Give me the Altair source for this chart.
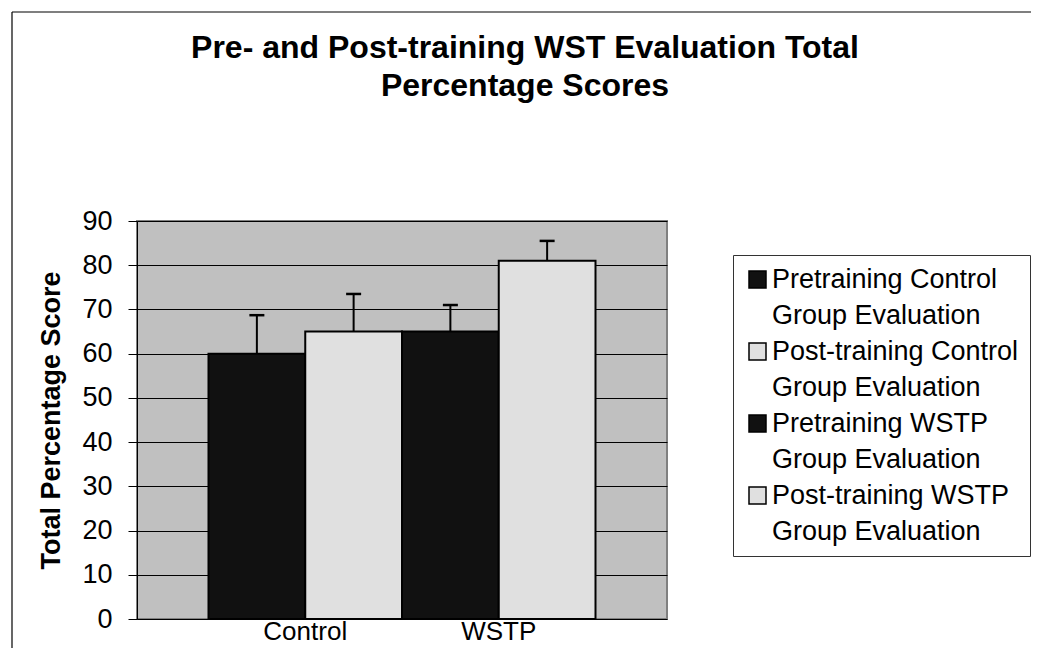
import altair as alt
import pandas as pd

series = [
    "Pretraining Control Group Evaluation",
    "Post-training Control Group Evaluation",
    "Pretraining WSTP Group Evaluation",
    "Post-training WSTP Group Evaluation",
]
means = [60, 65, 65, 81]
errors = [8.7, 8.5, 6.0, 4.5]
colors = ["#111111", "#e0e0e0", "#111111", "#e0e0e0"]
groups = ["Control", "WSTP"]
group_anchor = [series[0], series[2]]
y_ticks = [0, 10, 20, 30, 40, 50, 60, 70, 80, 90]
title_lines = ["Pre- and Post-training WST Evaluation Total", "Percentage Scores"]

FONT = "Arial, Liberation Sans"

df = pd.DataFrame({"series": series, "mean": means, "err": errors})
df["upper"] = df["mean"] + df["err"]
gdf = pd.DataFrame({"group": groups, "series": group_anchor})
tdf = pd.DataFrame({"n_lines": [len(title_lines)]})

W, H = 530, 398

xscale = alt.Scale(domain=series, paddingInner=0, paddingOuter=0.739)
yscale = alt.Scale(domain=[0, 90], nice=False)

x = alt.X("series:N", scale=xscale, axis=None, sort=series)

bars = alt.Chart(df).mark_bar(stroke="black", strokeWidth=2).encode(
    x=x,
    y=alt.Y(
        "mean:Q",
        scale=yscale,
        axis=alt.Axis(
            values=y_ticks,
            title="Total Percentage Score",
            titleFont=FONT,
            titleFontSize=27,
            titleFontWeight="bold",
            titleColor="black",
            titlePadding=16,
            labelFont=FONT,
            labelFontSize=27,
            labelColor="black",
            labelPadding=16,
            tickSize=9,
            tickColor="black",
            domainColor="black",
            domainWidth=1,
            grid=True,
            gridColor="black",
            gridWidth=1,
            gridOpacity=1,
        ),
    ),
    color=alt.Color(
        "series:N",
        scale=alt.Scale(domain=series, range=colors),
        legend=alt.Legend(
            title=None,
            orient="none",
            legendX=596,
            legendY=34,
            padding=11,
            strokeColor="#333333",
            fillColor="white",
            labelFont=FONT,
            labelFontSize=27,
            labelColor="black",
            labelLimit=500,
            labelOffset=1,
            rowPadding=8,
            symbolType="square",
            symbolSize=289,
            symbolStrokeColor="black",
            symbolStrokeWidth=1.5,
            symbolOpacity=1,
            labelExpr="[replace(datum.label, ' Group Evaluation', ''), 'Group Evaluation']",
        ),
    ),
)

rules = alt.Chart(df).mark_rule(color="black", strokeWidth=2).encode(
    x=x, y=alt.Y("mean:Q", scale=yscale), y2="upper:Q"
)
caps = alt.Chart(df).mark_tick(color="black", size=15, thickness=2.5, opacity=1).encode(
    x=x, y=alt.Y("upper:Q", scale=yscale)
)

xlabels = alt.Chart(gdf).mark_text(
    font=FONT, fontSize=26, color="black", baseline="middle", align="center"
).encode(
    x=alt.X("series:N", scale=xscale, axis=None, bandPosition=1),
    y=alt.value(H + 13),
    text="group:N",
)

title = alt.Chart(tdf).mark_text(
    text=title_lines,
    font=FONT,
    fontSize=32,
    fontWeight="bold",
    color="black",
    align="center",
    baseline="middle",
    lineHeight=38,
).encode(x=alt.value(388), y=alt.value(-173))

border_left = alt.Chart(tdf).mark_rule(color="black", strokeWidth=1.2, clip=False).encode(
    x=alt.value(-125), y=alt.value(-209), y2=alt.value(H + 60)
)
border_top = alt.Chart(tdf).mark_rule(color="black", strokeWidth=1.2, clip=False).encode(
    x=alt.value(-125), x2=alt.value(910), y=alt.value(-209)
)

chart = (
    alt.layer(border_left, border_top, title, bars, rules, caps, xlabels)
    .properties(
        width=W,
        height=H,
        padding={"left": 129, "top": 213, "right": 364, "bottom": 29},
        autosize=alt.AutoSizeParams(type="none"),
    )
    .configure(background="white", style={"guide-label": {"lineHeight": 36.5}})
    .configure_view(fill="#c0c0c0", stroke="#808080", strokeWidth=2)
)

chart.save("out.html", embed_options={"renderer": "svg", "actions": False})
